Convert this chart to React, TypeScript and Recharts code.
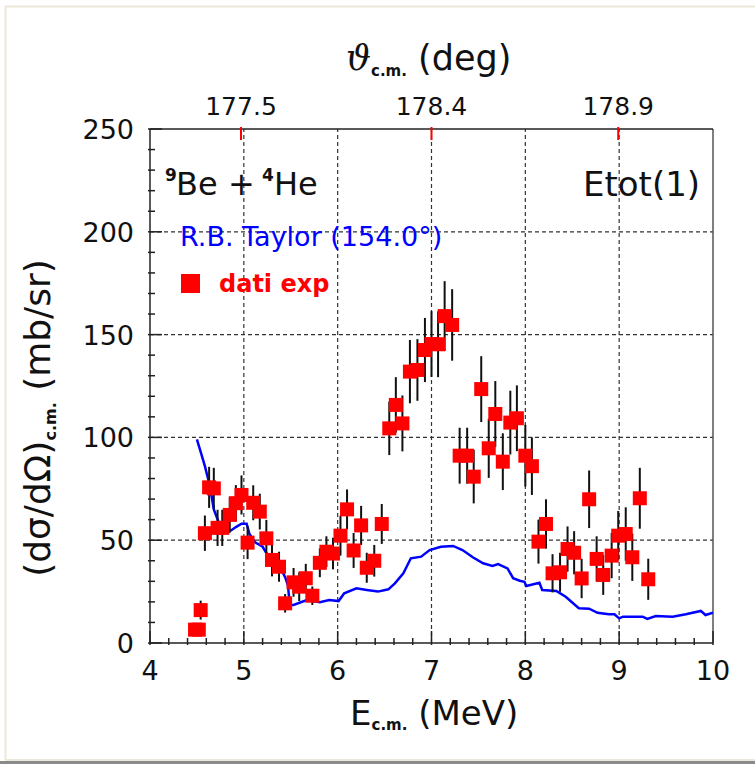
import { ComposedChart, XAxis, YAxis, Scatter, Line, ErrorBar, ReferenceLine } from "recharts";

const FONT = '"DejaVu Sans", Arial, sans-serif';

// measured cross section, E_cm in MeV, dσ/dΩ in mb/sr
const expEnergy = [
  4.48, 4.52, 4.54, 4.585, 4.63, 4.68, 4.72, 4.77, 4.85, 4.915, 4.975, 5.04, 5.1, 5.17, 5.24, 5.3, 5.375, 5.44,
  5.53, 5.59, 5.66, 5.73, 5.81, 5.88, 5.95, 6.03, 6.1, 6.17, 6.25, 6.31, 6.39, 6.47, 6.55, 6.62, 6.69, 6.77,
  6.85, 6.93, 7.0, 7.07, 7.14, 7.22, 7.3, 7.38, 7.45, 7.53, 7.61, 7.68, 7.76, 7.84, 7.91, 8.0, 8.07, 8.14,
  8.22, 8.29, 8.37, 8.45, 8.52, 8.6, 8.68, 8.76, 8.83, 8.92, 8.99, 9.07, 9.14, 9.22, 9.31,
];
const expSigma = [
  6.5, 6.5, 16, 53.4, 75.7, 75.2, 56, 56, 62.3, 68, 72, 48.8, 68.2, 63.9, 50.9, 40.4, 37.1, 19.3,
  29.5, 27.4, 31.5, 23, 39, 44.4, 43.5, 52.2, 65, 45, 57.2, 36.6, 40, 57.9, 104.4, 115.8, 106.8, 132,
  132.8, 142.5, 145.4, 145.3, 159, 154.7, 91.1, 91.1, 80.9, 123.5, 94.7, 111.4, 88.2, 107.2, 109.3, 91.1, 86, 49.3,
  57.9, 33.9, 34.4, 45.7, 43.9, 31.4, 69.9, 40.9, 33.1, 42.5, 52.2, 53, 41.7, 70.4, 31,
];
const expError = [
  3, 3, 4.6, 8.6, 10, 10, 8.8, 8.8, 8.5, 8.8, 9.5, 8, 8.5, 8.7, 9, 8, 7.3, 4.5,
  7, 7, 7, 4.5, 7, 7.5, 7.7, 9.7, 9.7, 8.5, 9.5, 7.3, 7.7, 9.7, 13, 13.5, 13.6, 15.4,
  15, 15.6, 16, 16, 17, 17.4, 13.6, 13.6, 13, 16, 14.4, 16, 13.8, 15.5, 16, 15, 14, 10.7,
  12, 9.3, 9.5, 11, 10.5, 9.6, 14, 11, 9.7, 11, 12, 13, 11.5, 14.8, 10,
];

// R.B. Taylor excitation function at 154.0°
const taylorEnergy = [
  4.5, 4.54, 4.585, 4.64, 4.68, 4.73, 4.78, 4.84, 4.92, 4.975, 5.03, 5.06, 5.12, 5.2, 5.26, 5.33, 5.375, 5.44,
  5.47, 5.49, 5.53, 5.67, 5.81, 5.91, 6.01, 6.07, 6.2, 6.31, 6.43, 6.54, 6.61, 6.7, 6.78, 6.89, 6.98, 7.1,
  7.23, 7.33, 7.44, 7.55, 7.65, 7.71, 7.81, 7.87, 7.94, 7.99, 8.01, 8.15, 8.18, 8.33, 8.43, 8.57, 8.68, 8.77,
  8.89, 8.95, 9.0, 9.04, 9.25, 9.3, 9.39, 9.57, 9.71, 9.87, 9.92, 10.0,
];
const taylorSigma = [
  99, 93, 86, 76, 65, 59, 55, 54, 56.5, 58, 58, 53, 49, 46.8, 42.3, 42.8, 38, 32,
  28, 18.5, 18.5, 20.9, 19.8, 20.9, 20.4, 24.2, 26.6, 25.8, 25, 26.1, 29, 33.9, 41.2, 42, 45.2, 46.8,
  47.2, 45.2, 41.7, 38.8, 37.5, 38.4, 36.3, 31.5, 30.3, 29.8, 27.7, 29.3, 25.8, 25.3, 22.5, 16.9, 16.7, 14.7,
  14, 14, 12, 12.8, 12.8, 11.7, 13.1, 12.8, 14, 15.6, 13.6, 14.7,
];

const energyTicks = [4, 5, 6, 7, 8, 9, 10];
const sigmaTicks = [0, 50, 100, 150, 200, 250];
const thetaLabels = ["177.5", "178.4", "178.9"];
const thetaEnergy = [4.97, 7.0, 8.99];

const expData = expEnergy.map((e, i) => ({ e, sigma: expSigma[i], err: expError[i] }));
const taylorData = taylorEnergy.map((e, i) => ({ e, sigma: taylorSigma[i] }));

const xMinor = Array.from({ length: 31 }, (_, i) => Math.round((4 + i * 0.2) * 10) / 10);
const yMinor = Array.from({ length: 26 }, (_, i) => i * 10);

const AXIS = "#222";
const GRID = "#333";

const BottomTick = ({ x, y, payload }: any) => {
  const major = energyTicks.includes(payload.value);
  return (
    <g>
      <line x1={x} x2={x} y1={y} y2={y - (major ? 14 : 7)} stroke={AXIS} strokeWidth={1.5} />
      {major && (
        <text x={x} y={y + 35} textAnchor="middle" fontSize={27} fontFamily={FONT} fill="#111">
          {payload.value}
        </text>
      )}
    </g>
  );
};

const LeftTick = ({ x, y, payload }: any) => {
  const major = sigmaTicks.includes(payload.value);
  return (
    <g>
      <line x1={x} x2={x + (major ? 14 : 7)} y1={y} y2={y} stroke={AXIS} strokeWidth={1.5} />
      {major && (
        <text x={x - 14} y={y + 10} textAnchor="end" fontSize={27} fontFamily={FONT} fill="#111">
          {payload.value}
        </text>
      )}
    </g>
  );
};

// angle scale: red marks at the energies where θ_cm takes the labelled values
const TopTick = ({ x, y, index }: any) => (
  <g>
    <line x1={x} x2={x} y1={y} y2={y + 13} stroke="#ff0000" strokeWidth={2} />
    <text x={x} y={y - 12} textAnchor="middle" fontSize={25} fontFamily={FONT} fill="#111">
      {thetaLabels[index]}
    </text>
  </g>
);

const Square = ({ cx, cy }: any) => <rect x={cx - 7} y={cy - 7} width={14} height={14} fill="#ff0000" />;

export default function App() {
  return (
    <div style={{ position: "absolute", left: 0, top: 0, width: 755, height: 764, background: "#fff", fontFamily: FONT }}>
      <ComposedChart width={755} height={764} margin={{ top: 69, right: 42, bottom: 61, left: 10 }}>
        <XAxis
          xAxisId="bottom"
          dataKey="e"
          type="number"
          domain={[4, 10]}
          ticks={xMinor}
          interval={0}
          tick={BottomTick}
          tickSize={0}
          tickLine={false}
          axisLine={{ stroke: AXIS, strokeWidth: 1.5 }}
          height={60}
          allowDataOverflow
        />
        <XAxis
          xAxisId="top"
          orientation="top"
          dataKey="e"
          type="number"
          domain={[4, 10]}
          ticks={thetaEnergy}
          interval={0}
          tick={TopTick}
          tickSize={0}
          tickLine={false}
          axisLine={{ stroke: AXIS, strokeWidth: 1.5 }}
          height={60}
          allowDataOverflow
        />
        <YAxis
          dataKey="sigma"
          type="number"
          domain={[0, 250]}
          ticks={yMinor}
          interval={0}
          tick={LeftTick}
          tickSize={0}
          tickLine={false}
          axisLine={{ stroke: AXIS, strokeWidth: 1.5 }}
          width={140}
          allowDataOverflow
        />

        {[5, 6, 7, 8, 9].map((v) => (
          <ReferenceLine key={`gx${v}`} xAxisId="bottom" x={v} stroke={GRID} strokeWidth={1.2} strokeDasharray="4 3" />
        ))}
        {[50, 100, 150, 200].map((v) => (
          <ReferenceLine key={`gy${v}`} xAxisId="bottom" y={v} stroke={GRID} strokeWidth={1.2} strokeDasharray="4 3" />
        ))}
        <ReferenceLine xAxisId="bottom" x={10} stroke="#555" strokeWidth={1.5} />

        {/* the model curve sits on the top axis (same energy domain) so that axis gets drawn */}
        <Line
          xAxisId="top"
          data={taylorData}
          dataKey="sigma"
          type="linear"
          stroke="#0000ff"
          strokeWidth={2.5}
          dot={false}
          isAnimationActive={false}
        />
        <Scatter xAxisId="bottom" data={expData} dataKey="sigma" shape={Square} isAnimationActive={false}>
          <ErrorBar dataKey="err" direction="y" width={0} stroke="#111" strokeWidth={2} isAnimationActive={false} />
        </Scatter>
      </ComposedChart>

      <svg
        width={755}
        height={764}
        style={{ position: "absolute", left: 0, top: 0, pointerEvents: "none" }}
        fontFamily={FONT}
      >
        {/* canvas frame */}
        <line x1={5} x2={755} y1={6.5} y2={6.5} stroke="#ebe8da" strokeWidth={2} />
        <line x1={5.5} x2={5.5} y1={6} y2={760} stroke="#ebe8da" strokeWidth={2} />
        <line x1={5} x2={755} y1={760} y2={760} stroke="#ebe8da" strokeWidth={2} />
        <rect x={0} y={761} width={755} height={3} fill="#8a8a8a" />

        <text x={346} y={70} fontSize={35} fill="#111">
          <tspan fontFamily='"DejaVu Serif", serif' fontStyle="italic">ϑ</tspan>
          <tspan fontSize={15} fontWeight="bold" dy={6}>c.m.</tspan>
          <tspan dy={-6}> (deg)</tspan>
        </text>

        <text x={350} y={725} fontSize={34} fill="#111">
          <tspan>E</tspan>
          <tspan fontSize={15} fontWeight="bold" dy={5}>c.m.</tspan>
          <tspan dy={-5}> (MeV)</tspan>
        </text>

        <text transform="translate(50,418) rotate(-90)" textAnchor="middle" fontSize={36} fill="#111">
          <tspan>(dσ/dΩ)</tspan>
          <tspan fontSize={16} fontWeight="bold" dy={6}>c.m.</tspan>
          <tspan dy={-6}> (mb/sr)</tspan>
        </text>

        <text y={195} fontSize={32} fill="#111">
          <tspan x={165} fontSize={17} fontWeight="bold" dy={-14}>9</tspan>
          <tspan x={176} dy={14}>Be</tspan>
          <tspan x={228}>+</tspan>
          <tspan x={262} fontSize={17} fontWeight="bold" dy={-14}>4</tspan>
          <tspan x={274} dy={14}>He</tspan>
        </text>
        <text x={583} y={196} fontSize={34} fill="#111">Etot(1)</text>

        <text x={180} y={246} fontSize={27} fill="#0000ff">R.B. Taylor (154.0°)</text>

        <rect x={181} y={274} width={19} height={19} fill="#ff0000" />
        <text x={219} y={292} fontSize={24} fontWeight="bold" fill="#ff0000">dati exp</text>
      </svg>
    </div>
  );
}
